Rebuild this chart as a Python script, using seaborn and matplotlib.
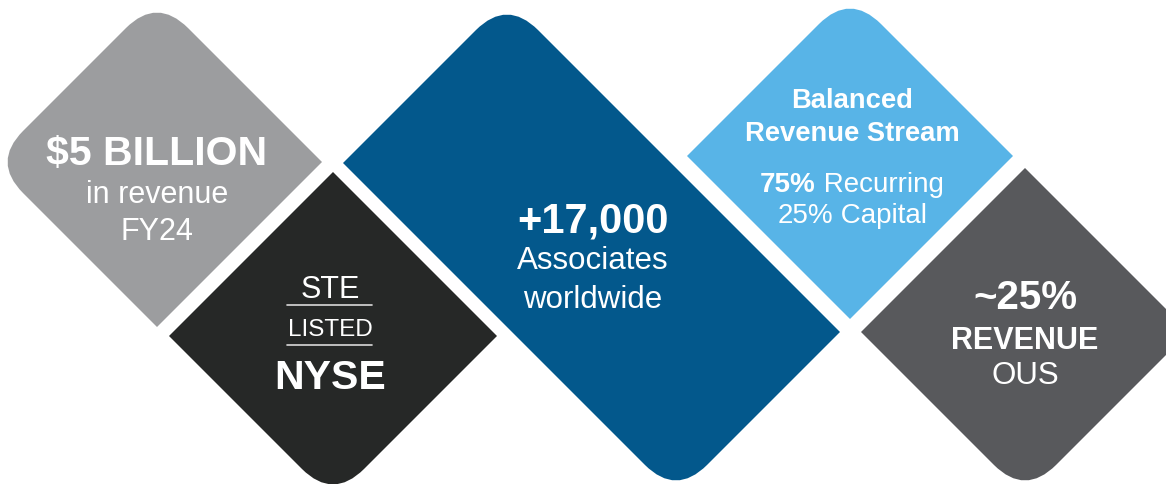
import numpy as np
import matplotlib
matplotlib.use("Agg")
import matplotlib.pyplot as plt
from matplotlib.path import Path
from matplotlib.patches import PathPatch
import seaborn as sns

# tiles: name, colour, which corners are rounded (left, top, right, bottom)
tile_names = ["revenue", "listing", "associates", "stream", "ous"]
tile_colors = ["#9c9d9f", "#262827", "#03588c", "#58b4e7", "#58595c"]
tile_rounded = [
    [True, True, False, False],
    [False, False, False, True],
    [False, True, False, True],
    [False, True, False, False],
    [False, False, False, True],
]

# text lines per tile: (text, bold, size in pt)
revenue_lines = [("$5 BILLION", True, 29.5), ("in revenue", False, 22), ("FY24", False, 22)]
listing_lines = [("STE", False, 22), ("LISTED", False, 17.5), ("NYSE", True, 29.5)]
associates_lines = [("+17,000", True, 30), ("Associates", False, 22.5), ("worldwide", False, 22.5)]
stream_title = [("Balanced", True, 19.7), ("Revenue Stream", True, 19.7)]
stream_split = [("75%", "Recurring"), ("25%", "Capital")]
ous_lines = [("~25%", True, 29), ("REVENUE", True, 22), ("OUS", False, 22.5)]

# layout (pixel space, y down): corner vertices L, T, R, B of each tile
tile_corners = [
    [(-8, 163), (157, -2), (322, 163), (157, 328)],
    [(169, 337), (333, 173), (497, 337), (333, 501)],
    [(343, 164), (507, 0), (840, 333), (676, 497)],
    [(687, 157), (850, -6), (1013, 157), (850, 320)],
    [(861, 333), (1025, 169), (1189, 333), (1025, 497)],
]
radius = 44


def rounded_path(corners, rounded, r):
    pts = [np.array(c, dtype=float) for c in corners]
    n = len(pts)
    verts, codes = [], []
    for i in range(n):
        v = pts[i]
        prev = pts[i - 1]
        nxt = pts[(i + 1) % n]
        if rounded[i]:
            p_in = v + (prev - v) / np.linalg.norm(prev - v) * r
            p_out = v + (nxt - v) / np.linalg.norm(nxt - v) * r
            verts += [p_in, v, p_out]
            codes += [Path.LINETO, Path.CURVE3, Path.CURVE3]
        else:
            verts.append(v)
            codes.append(Path.LINETO)
    codes[0] = Path.MOVETO
    verts.append(verts[0])
    codes.append(Path.CLOSEPOLY)
    return Path(verts, codes)


sns.set_theme(style="white")
plt.rcParams["font.family"] = ["Liberation Sans", "DejaVu Sans"]

fig = plt.figure(figsize=(11.66, 4.85), dpi=100)
ax = fig.add_axes([0, 0, 1, 1])
ax.set_xlim(0, 1166)
ax.set_ylim(485, 0)
ax.set_axis_off()

for corners, rounded, color in zip(tile_corners, tile_rounded, tile_colors):
    ax.add_patch(PathPatch(rounded_path(corners, rounded, radius),
                           facecolor=color, edgecolor="none"))


def put(x, y, line):
    text, bold, size = line
    ax.text(x, y, text, color="white", fontsize=size,
            fontweight="bold" if bold else "normal",
            ha="center", va="center_baseline")


# gray tile
for y, line in zip([150, 192, 229], revenue_lines):
    put(157, y, line)

# black tile with rules
for y, line in zip([287, 328, 374], listing_lines):
    put(330, y, line)
for y in [306, 346]:
    ax.plot([287, 372], [y, y], color="#d9d9d9", lw=1.2)

# blue tile
for y, line in zip([217, 258, 297], associates_lines):
    put(593, y, line)

# light blue tile
for y, line in zip([98, 131], stream_title):
    put(852, y, line)
renderer = fig.canvas.get_renderer()
for y, (pct, word) in zip([182, 213], stream_split):
    bold_pct = pct == "75%"
    t1 = ax.text(0, y, pct, color="white", fontsize=20,
                 fontweight="bold" if bold_pct else "normal",
                 ha="left", va="center_baseline")
    t2 = ax.text(0, y, " " + word, color="white", fontsize=20,
                 ha="left", va="center_baseline")
    w1 = t1.get_window_extent(renderer).width
    w2 = t2.get_window_extent(renderer).width
    x0 = 852 - (w1 + w2) / 2
    t1.set_x(x0)
    t2.set_x(x0 + w1)

# dark gray tile
for y, line in zip([294, 338, 373], ous_lines):
    put(1025, y, line)

fig.savefig("out.png", dpi=100)
